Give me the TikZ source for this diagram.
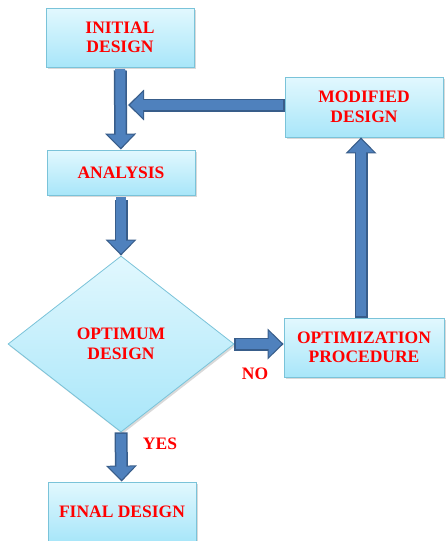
\documentclass[tikz,border=0pt]{standalone}
\usepackage{fontspec}
\setmainfont{Liberation Serif}
\usetikzlibrary{shapes.geometric, arrows.meta, shadows}

\definecolor{boxtop}{HTML}{E2F8FE}
\definecolor{boxbottom}{HTML}{A8E6F9}
\definecolor{boxedge}{HTML}{7AC3D9}
\definecolor{arrowfill}{HTML}{4F81BD}
\definecolor{arrowedge}{HTML}{385D8A}

\begin{document}
\begin{tikzpicture}[x=1pt, y=-1pt,
    font=\bfseries\fontsize{17.5}{19.5}\selectfont,
    stepbox/.style={draw=boxedge, line width=0.8pt, top color=boxtop, bottom color=boxbottom,
        text=red, align=center, inner sep=0pt,
        drop shadow={opacity=0.3, shadow xshift=1.5pt, shadow yshift=-2pt}},
    blockarrow/.style={draw=arrowedge, line width=13pt, -{Triangle[length=16pt, width=30pt]},
        postaction={draw=arrowfill, line width=10pt, shorten >=2pt, shorten <=1.5pt,
            -{Triangle[length=13pt, width=25pt]}}},
    tag/.style={text=red, inner sep=0pt}]
    \useasboundingbox (0,0) rectangle (445,541);

    \node[stepbox, minimum width=148pt, minimum height=59pt]
        (init) at (120,37.5) {INITIAL\\DESIGN};

    \node[stepbox, minimum width=148pt, minimum height=45pt]
        (ana) at (121,172.5) {ANALYSIS};

    \node[stepbox, shape=diamond, minimum width=226pt, minimum height=176pt]
        (dia) at (121,344) {OPTIMUM\\DESIGN};

    \node[stepbox, minimum width=160pt, minimum height=59pt]
        (opt) at (364,347.5) {OPTIMIZATION\\PROCEDURE};

    \node[stepbox, minimum width=158pt, minimum height=60pt]
        (mod) at (364,107) {MODIFIED\\DESIGN};

    \node[stepbox, minimum width=148pt, minimum height=59pt]
        (final) at (122,511.5) {FINAL DESIGN};

    \node[tag] (no) at (255,374) {NO};
    \node[tag] (yes) at (160,444) {YES};

    \coordinate (join) at (128,105);

    \draw[blockarrow, shorten <=3pt] (init) -- (ana);
    \draw[blockarrow] (mod.west |- join) -- (join);
    \draw[blockarrow, shorten <=5pt] (ana) -- (dia);
    \draw[blockarrow] (dia.east) -- (dia.east -| opt.west);
    \draw[blockarrow] ([xshift=-3pt]opt.north) -- ([xshift=-3pt]mod.south);
    \draw[blockarrow] (dia.south) -- (final);
\end{tikzpicture}
\end{document}
